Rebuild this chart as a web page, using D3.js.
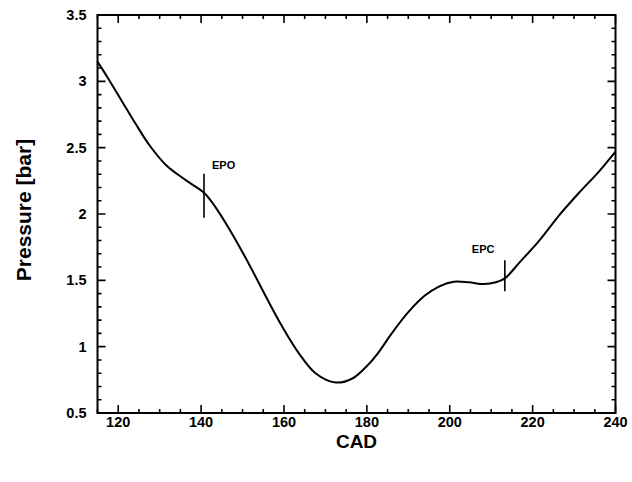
<!DOCTYPE html>
<html>
<head>
<meta charset="utf-8">
<script src="https://cdn.jsdelivr.net/npm/d3@7"></script>
<style>
  html, body { margin: 0; padding: 0; background: #fff; }
  svg { display: block; }
  text { font-family: "Liberation Sans", Arial, Helvetica, sans-serif; font-weight: bold; fill: #000; }
</style>
</head>
<body>
<script>
// Crank angle (deg) and cylinder pressure (bar) along the exhaust stroke
const cad = [115, 117.8, 121, 124.2, 127.5, 131.5, 136.3, 140.7, 143.5, 147.5,
             151.6, 155.6, 159.6, 163.6, 167.6, 172.5, 176.5, 180.5, 183, 186,
             190, 194, 197.5, 201, 204.6, 208.3, 211.1, 213.3, 216.7, 221.6,
             226.4, 231.2, 236, 240];
const pressure = [3.15, 3.01, 2.845, 2.68, 2.52, 2.37, 2.255, 2.16, 2.05, 1.85,
                  1.62, 1.38, 1.15, 0.95, 0.80, 0.73, 0.76, 0.87, 0.965, 1.10,
                  1.26, 1.385, 1.455, 1.49, 1.485, 1.472, 1.485, 1.515, 1.63, 1.80,
                  1.99, 2.16, 2.32, 2.47];

// Port timing markers
const markerNames = ["EPO", "EPC"];
const markerCad = [140.7, 213.3];
const markerPressure = [2.16, 1.515];

const xTicks = [120, 140, 160, 180, 200, 220, 240];
const yTicks = [0.5, 1, 1.5, 2, 2.5, 3, 3.5];

const W = 632, H = 482;
const plotL = 97.5, plotR = 615.5, plotT = 15, plotB = 413;

const svg = d3.select("body").append("svg").attr("width", W).attr("height", H);

const x = d3.scaleLinear().domain([115, 240]).range([plotL, plotR]);
const y = d3.scaleLinear().domain([0.5, 3.5]).range([plotB, plotT]);

const minorX = d3.range(115, 240.01, 5).filter(v => !xTicks.includes(v));
const minorY = d3.range(5, 35.01, 1).map(v => v / 10).filter(v => !yTicks.includes(v));

// Frame
svg.append("rect")
  .attr("x", plotL).attr("y", plotT)
  .attr("width", plotR - plotL).attr("height", plotB - plotT)
  .attr("fill", "none").attr("stroke", "#000").attr("stroke-width", 2);

// Inward tick marks on all four sides, built as one path
const tickPath = d3.path();
function addX(vals, len) {
  vals.forEach(v => {
    const px = x(v);
    tickPath.moveTo(px, plotB); tickPath.lineTo(px, plotB - len);
    tickPath.moveTo(px, plotT); tickPath.lineTo(px, plotT + len);
  });
}
function addY(vals, len) {
  vals.forEach(v => {
    const py = y(v);
    tickPath.moveTo(plotL, py); tickPath.lineTo(plotL + len, py);
    tickPath.moveTo(plotR, py); tickPath.lineTo(plotR - len, py);
  });
}
addX(minorX, 4);
addX(xTicks, 8);
addY(minorY, 4);
addY(yTicks, 8);
svg.append("path")
  .attr("d", tickPath.toString())
  .attr("fill", "none").attr("stroke", "#000").attr("stroke-width", 1.6);

// Tick labels
svg.append("g").selectAll("text").data(xTicks).join("text")
  .attr("x", d => x(d)).attr("y", plotB + 14)
  .attr("text-anchor", "middle").attr("font-size", 14.5)
  .text(d => d);
svg.append("g").selectAll("text").data(yTicks).join("text")
  .attr("x", plotL - 11).attr("y", d => y(d) + 5)
  .attr("text-anchor", "end").attr("font-size", 14.5)
  .text(d => d);

// Axis titles
svg.append("text")
  .attr("x", (plotL + plotR) / 2).attr("y", 448)
  .attr("text-anchor", "middle").attr("font-size", 19)
  .text("CAD");
svg.append("text")
  .attr("transform", `translate(31,${(plotT + plotB) / 2 - 4}) rotate(-90)`)
  .attr("text-anchor", "middle").attr("font-size", 21)
  .text("Pressure  [bar]");

// Pressure trace
const pts = cad.map((c, i) => [c, pressure[i]]);
svg.append("path")
  .datum(pts)
  .attr("fill", "none").attr("stroke", "#000").attr("stroke-width", 2)
  .attr("d", d3.line().x(d => x(d[0])).y(d => y(d[1])).curve(d3.curveCatmullRom.alpha(0.5)));

// Port event markers and labels
const markerUp = [19, 18], markerDown = [25, 13];
const labelDx = [8, -33], labelDy = [-24, -25];
markerNames.forEach((name, i) => {
  const mx = x(markerCad[i]), my = y(markerPressure[i]);
  svg.append("line")
    .attr("x1", mx).attr("x2", mx)
    .attr("y1", my - markerUp[i]).attr("y2", my + markerDown[i])
    .attr("stroke", "#000").attr("stroke-width", 1.6);
  svg.append("text")
    .attr("x", mx + labelDx[i]).attr("y", my + labelDy[i])
    .attr("font-size", 11)
    .text(name);
});
</script>
</body>
</html>
